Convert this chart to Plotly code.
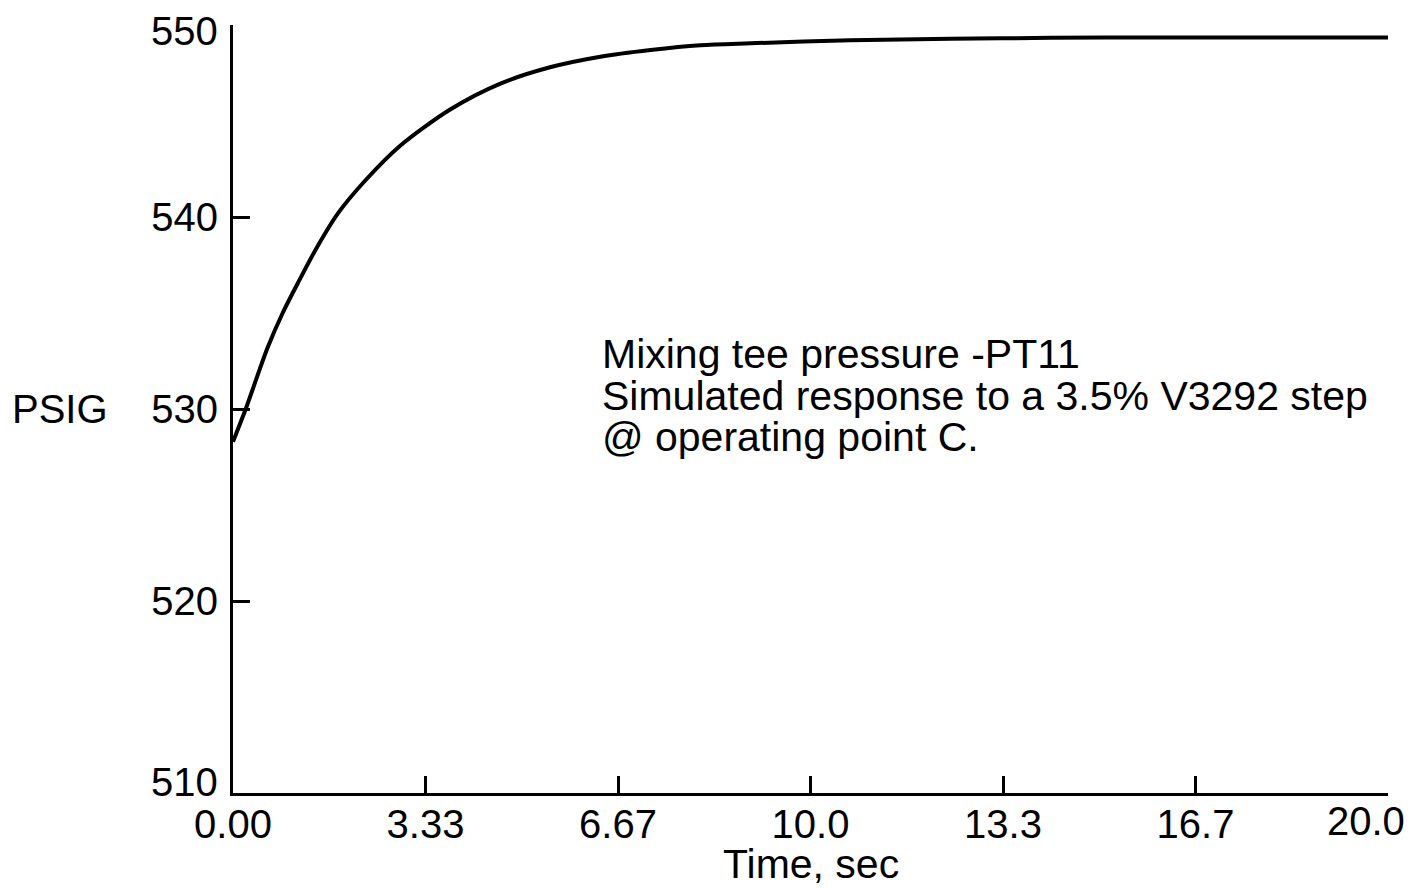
import plotly.graph_objects as go

# Data
time_s = [0.0, 0.22, 0.60, 0.86, 1.13, 1.45, 1.82, 2.29, 2.89, 3.76, 4.63, 5.49,
          6.36, 7.23, 8.09, 8.96, 10.69, 12.43, 14.16, 16.0, 18.0, 20.0]
pressure = [528.3, 530.0, 533.2, 535.0, 536.6, 538.4, 540.2, 541.9, 543.7, 545.6,
            546.95, 547.8, 548.35, 548.7, 548.95, 549.05, 549.2, 549.28, 549.33,
            549.35, 549.35, 549.35]

x_tickvals = [0, 10/3, 20/3, 10, 40/3, 50/3, 20]
x_ticktext = ["0.00", "3.33", "6.67", "10.0", "13.3", "16.7", "20.0"]
y_tickvals = [510, 520, 530, 540, 550]
y_ticktext = ["510", "520", "530", "540", "550"]

note_lines = ["Mixing tee pressure -PT11",
              "Simulated response to a 3.5% V3292 step",
              "@ operating point C."]
note_y = [532.85, 530.7, 528.55]

FONT = "Liberation Sans, Arial, Helvetica, sans-serif"
TXT = dict(family=FONT, size=40, color="black")

fig = go.Figure()
fig.add_trace(go.Scatter(x=time_s, y=pressure, mode="lines",
                         line=dict(color="black", width=4, shape="spline", smoothing=0.8),
                         showlegend=False, hoverinfo="skip"))

for txt, yy in zip(note_lines, note_y):
    fig.add_annotation(x=6.36, y=yy, xref="x", yref="y", text=txt, showarrow=False,
                       xanchor="left", yanchor="middle",
                       font=dict(family=FONT, size=41, color="black"))

fig.add_annotation(x=-0.193, y=530, xref="paper", yref="y", text="PSIG", showarrow=False,
                   xanchor="left", yanchor="middle", font=TXT)

# end y tick labels sit slightly inside the axis span, as in the reference
fig.add_annotation(x=0, y=y_tickvals[0], xref="paper", yref="y", text=y_ticktext[0],
                   showarrow=False, xanchor="right", yanchor="middle", xshift=-13, yshift=11,
                   font=TXT)
fig.add_annotation(x=0, y=y_tickvals[-1], xref="paper", yref="y", text=y_ticktext[-1],
                   showarrow=False, xanchor="right", yanchor="middle", xshift=-13, yshift=-6,
                   font=TXT)

# last x tick label is shifted left so it stays inside the page, as in the reference
fig.add_annotation(x=x_tickvals[-1], y=0, xref="x", yref="paper", text=x_ticktext[-1],
                   showarrow=False, xanchor="center", yanchor="top", xshift=-22, yshift=-4,
                   font=TXT)

# axis title placed as text below the tick labels
fig.add_annotation(x=0.5, y=0, xref="paper", yref="paper", text="Time, sec",
                   showarrow=False, xanchor="center", yanchor="top", yshift=-46,
                   font=dict(family=FONT, size=41, color="black"))

fig.update_layout(
    width=1420, height=888,
    margin=dict(l=233, r=32, t=25, b=95),
    paper_bgcolor="white", plot_bgcolor="white",
    font=dict(family=FONT, color="black"),
)
fig.update_xaxes(range=[0, 20], tickvals=x_tickvals, ticktext=x_ticktext[:-1] + [""],
                 showline=True, linecolor="black", linewidth=3, mirror=False,
                 showgrid=False, zeroline=False, automargin=False,
                 ticks="inside", ticklen=17, tickwidth=3, tickcolor="black",
                 ticklabelstandoff=-6, tickfont=TXT)
fig.update_yaxes(range=[510, 550], tickvals=y_tickvals,
                 ticktext=[""] + y_ticktext[1:-1] + [""],
                 showline=True, linecolor="black", linewidth=3, mirror=False,
                 showgrid=False, zeroline=False, automargin=False,
                 ticks="inside", ticklen=17, tickwidth=3, tickcolor="black",
                 ticklabelstandoff=4, tickfont=TXT)

fig.write_html("out.html")
